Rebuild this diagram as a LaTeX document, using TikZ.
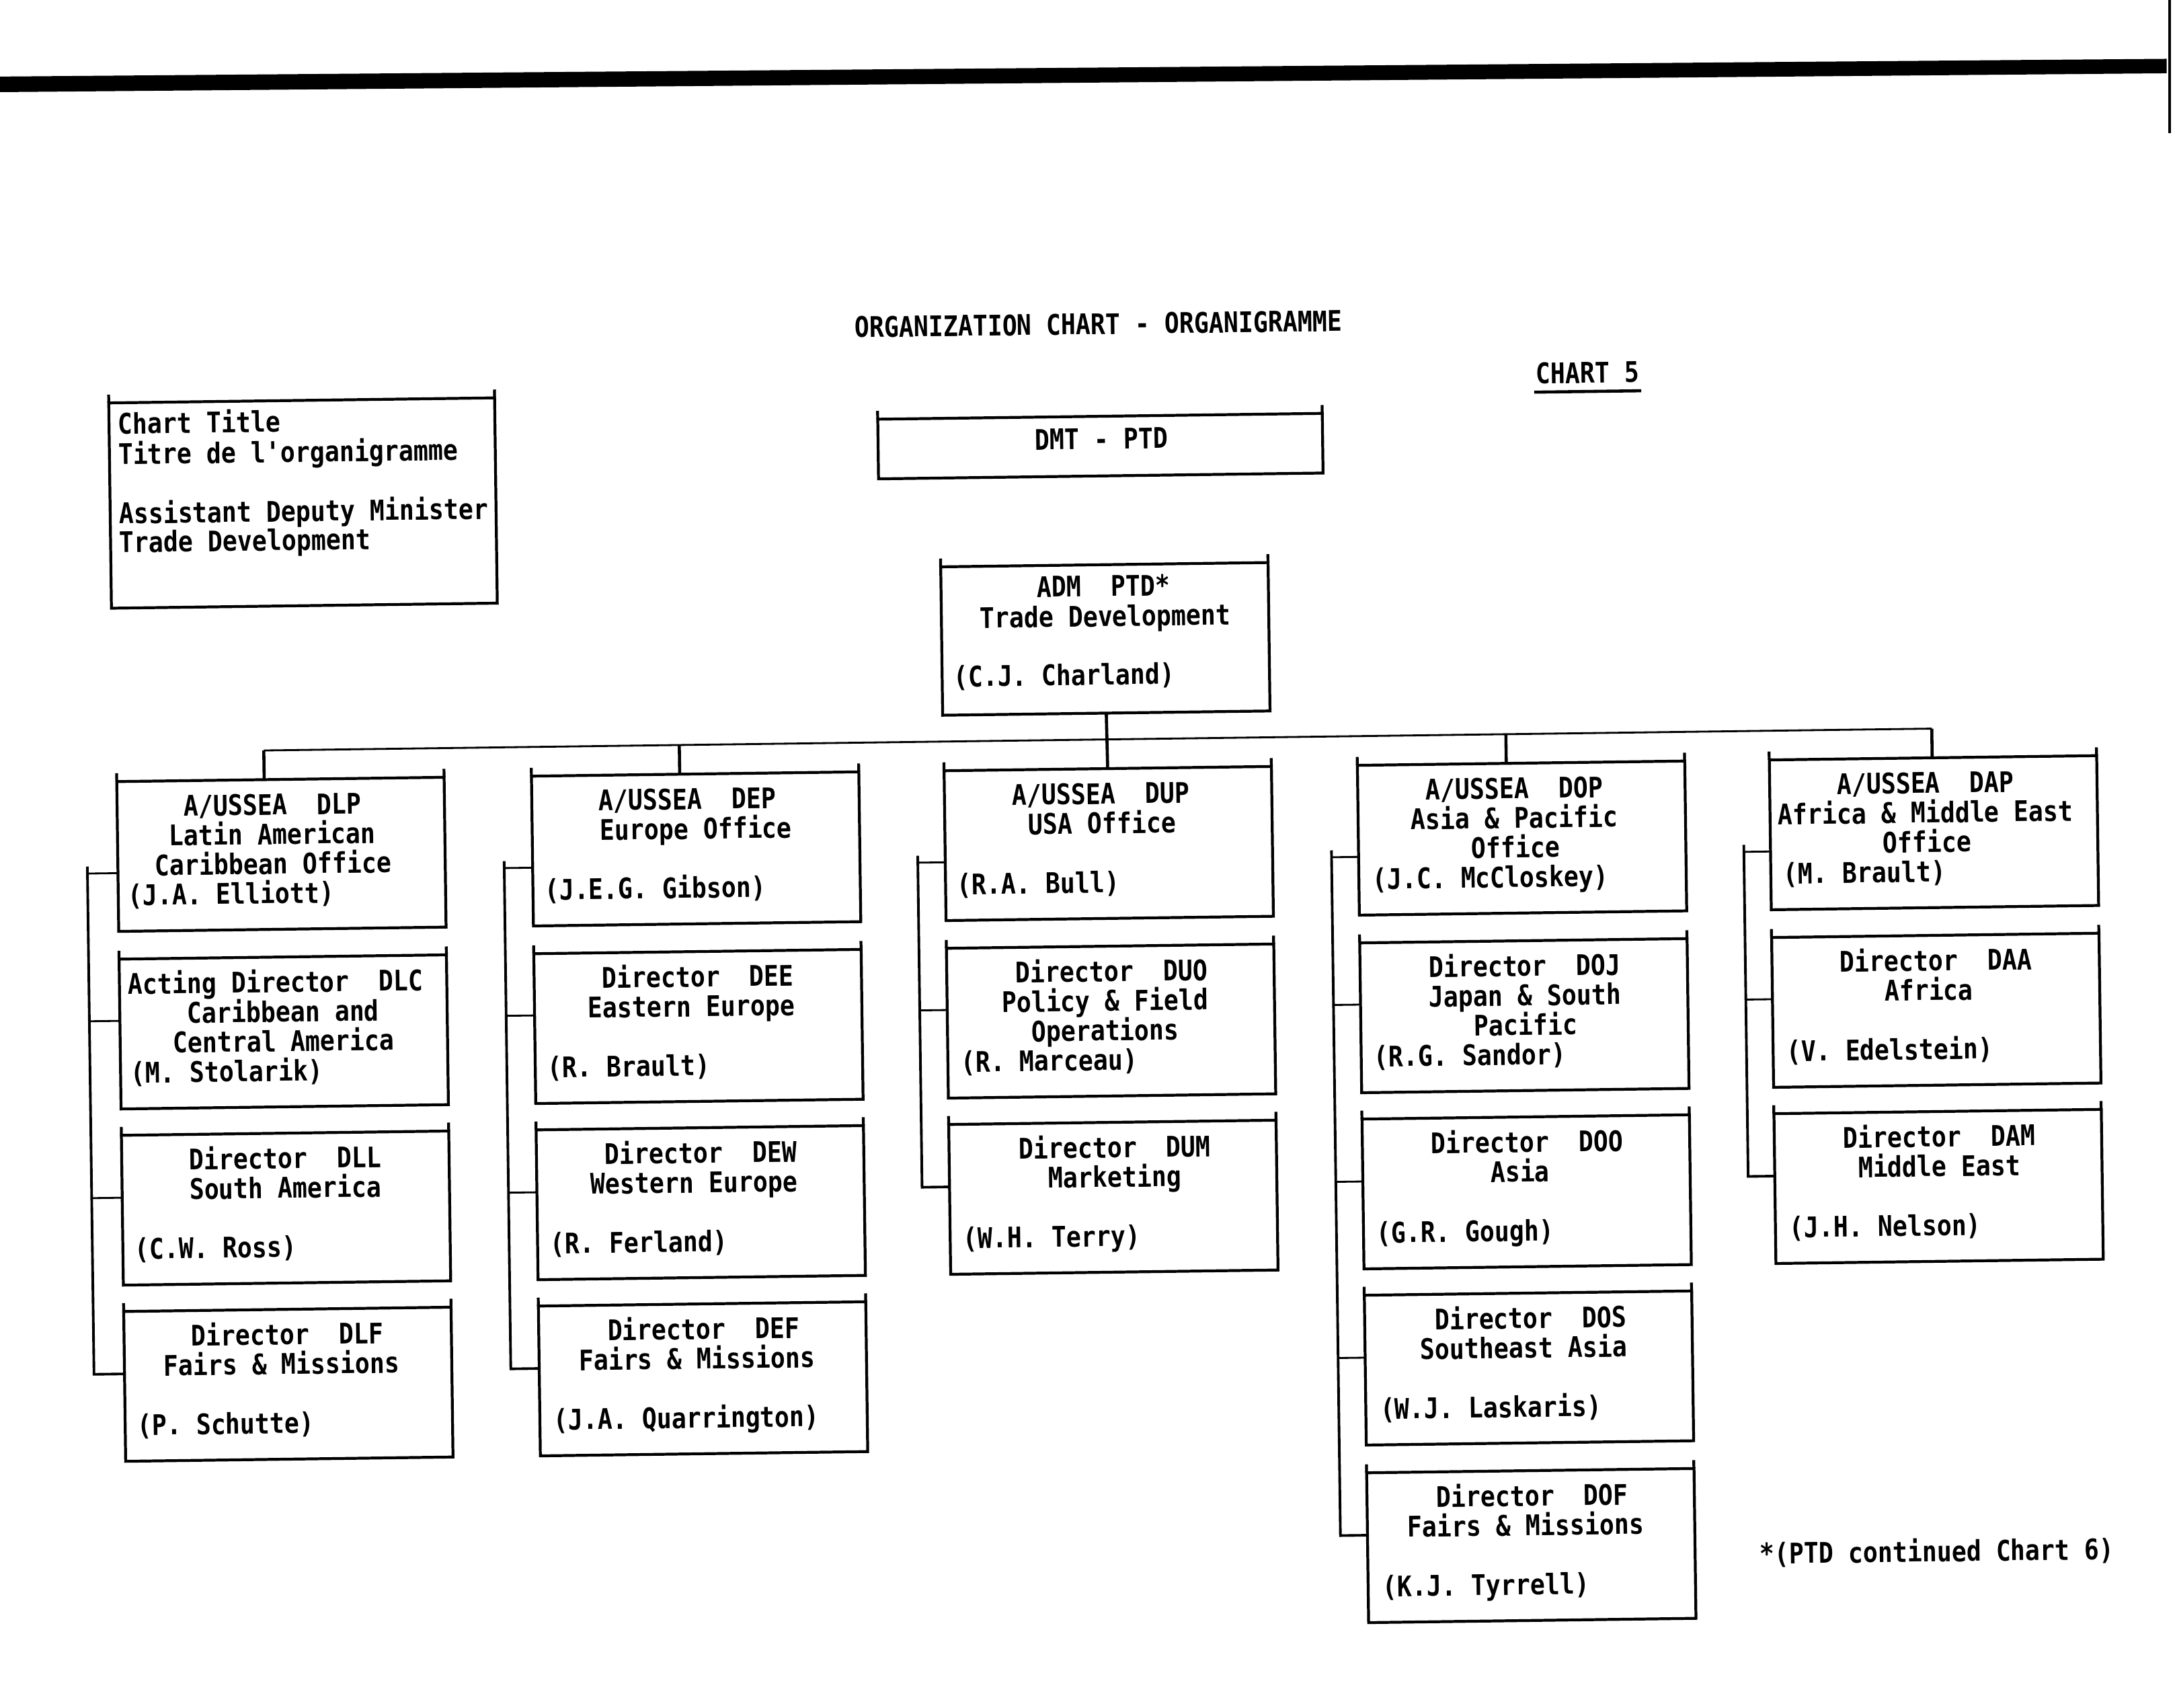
\documentclass[tikz,border=0pt]{standalone}
\usepackage{fontspec}
\newfontfamily\tw[FakeStretch=0.865,Ligatures=TeXOff]{DejaVu Sans Mono}
\newcommand\tline[4]{\node[tx] (#1) at (#2,#3) {#4};}
\newcommand\tname[4]{\node[txl] (#1) at (#2,#3) {#4};}
\begin{document}
\begin{tikzpicture}[x=0.02063cm,y=-0.02063cm,
  box/.style={draw, line width=1.2pt, anchor=north west, inner sep=0pt, outer sep=0pt,
              minimum width=4.869cm, minimum height=2.228cm},
  tx/.style={font=\tw\bfseries\fontsize{12}{14}\selectfont, inner sep=0pt, anchor=base},
  txl/.style={tx, anchor=base west},
  drop/.style={line width=1.3pt},
  bus/.style={line width=0.8pt},
  brk/.style={line width=1.1pt},
  stub/.style={line width=0.8pt},
  tick/.style={line width=1.2pt}]
\fill[white] (0,0) rectangle (1568,1230.7);
\useasboundingbox (0,0) rectangle (1568,1230.7);
% scanner band at the top
\fill (0,55.2) -- (1562,42.4) -- (1562,52.8) -- (0,66.4) -- cycle;
\draw[line width=1pt] (1564,0) -- (1564,96);

\begin{scope}[rotate around={0.75:(800,700)}, transform shape]
% headings
\tline{title}{797.9}{240.9}{ORGANIZATION CHART - ORGANIGRAMME}
\tline{chart5}{1150}{280.6}{CHART 5}
\draw[line width=1.3pt] (1111.5,286.7) -- (1188.7,286.7);
\tline{foot}{1390.9}{1133.4}{*(PTD continued Chart 6)}

% chart title box
\node[box, minimum width=5.739cm, minimum height=3.053cm] (chart) at (83.8,281) {};
\tname{ct1}{89.8}{303.5}{Chart Title}
\tname{ct2}{89.8}{325.5}{Titre de l'organigramme}
\tname{ct3}{89.8}{368.2}{Assistant Deputy Minister}
\tname{ct4}{89.8}{389.0}{Trade Development}

% DMT box
\node[box, minimum width=6.612cm, minimum height=0.887cm] (dmt) at (638,300) {};
\tline{dmt1}{799.1}{323.7}{DMT - PTD}

% ADM box
\node[box, minimum height=2.207cm] (adm) at (682,407) {};
\tline{adm1}{799.3}{429.8}{ADM\ \ PTD*}
\tline{adm2}{800.1}{451.5}{Trade Development}
\tname{admn}{689.7}{493.6}{(C.J. Charland)}

% column 1
\node[box] (dlp) at (86,554) {};
\node[box] (dlc) at (86,682) {};
\node[box] (dll) at (86,809) {};
\node[box] (dlf) at (86,936) {};
\tline{dlp1}{198}{579.5}{A/USSEA\ \ DLP}
\tline{dlp2}{197.6}{600.8}{Latin American}
\tline{dlp3}{198}{622.1}{Caribbean Office}
\tname{dlpn}{92.5}{643.4}{(J.A. Elliott)}
\tline{dlc1}{198.6}{707.5}{Acting Director\ \ DLC}
\tline{dlc2}{203.7}{728.8}{Caribbean and}
\tline{dlc3}{203.8}{750.1}{Central America}
\tname{dlcn}{93}{771.4}{(M. Stolarik)}
\tline{dll1}{203.8}{834.5}{Director\ \ DLL}
\tline{dll2}{203.8}{855.8}{South America}
\tname{dlln}{94}{898.4}{(C.W. Ross)}
\tline{dlf1}{203.8}{961.5}{Director\ \ DLF}
\tline{dlf2}{199.3}{982.8}{Fairs \& Missions}
\tname{dlfn}{94.3}{1025.4}{(P. Schutte)}

% column 2
\node[box] (dep) at (385,554) {};
\node[box] (dee) at (385,682) {};
\node[box] (dew) at (385,809) {};
\node[box] (def) at (385,936) {};
\tline{dep1}{497.2}{579.5}{A/USSEA\ \ DEP}
\tline{dep2}{503}{600.8}{Europe Office}
\tname{depn}{393}{643.4}{(J.E.G. Gibson)}
\tline{dee1}{503}{707.5}{Director\ \ DEE}
\tline{dee2}{498}{728.8}{Eastern Europe}
\tname{deen}{393.5}{771.4}{(R. Brault)}
\tline{dew1}{503.5}{834.5}{Director\ \ DEW}
\tline{dew2}{498.4}{855.8}{Western Europe}
\tname{dewn}{393.8}{898.4}{(R. Ferland)}
\tline{def1}{503.9}{961.5}{Director\ \ DEF}
\tline{def2}{498.8}{982.8}{Fairs \& Missions}
\tname{defn}{394.5}{1025.4}{(J.A. Quarrington)}

% column 3
\node[box] (dup) at (682.5,554) {};
\node[box] (duo) at (682.5,682) {};
\node[box] (dum) at (682.5,809) {};
\tline{dup1}{795.2}{579.5}{A/USSEA\ \ DUP}
\tline{dup2}{796}{600.8}{USA Office}
\tname{dupn}{690.5}{643.4}{(R.A. Bull)}
\tline{duo1}{801.3}{707.5}{Director\ \ DUO}
\tline{duo2}{796.4}{728.8}{Policy \& Field}
\tline{duo3}{796.2}{750.1}{Operations}
\tname{duon}{691.4}{771.4}{(R. Marceau)}
\tline{dum1}{801.9}{834.5}{Director\ \ DUM}
\tline{dum2}{801.9}{855.8}{Marketing}
\tname{dumn}{691.6}{898.4}{(W.H. Terry)}

% column 4
\node[box] (dop) at (980.5,554) {};
\node[box] (doj) at (980.5,682) {};
\node[box] (doo) at (980.5,809) {};
\node[box] (dos) at (980.5,936) {};
\node[box] (dof) at (980.5,1064) {};
\tline{dop1}{1093.3}{579.5}{A/USSEA\ \ DOP}
\tline{dop2}{1093.2}{600.8}{Asia \& Pacific}
\tline{dop3}{1093.8}{622.1}{Office}
\tname{dopn}{989.8}{643.4}{(J.C. McCloskey)}
\tline{doj1}{1099.2}{707.5}{Director\ \ DOJ}
\tline{doj2}{1099.2}{728.8}{Japan \& South}
\tline{doj3}{1099.5}{750.1}{Pacific}
\tname{dojn}{989.4}{771.4}{(R.G. Sandor)}
\tline{doo1}{1099.2}{834.5}{Director\ \ DOO}
\tline{doo2}{1093.9}{855.8}{Asia}
\tname{doon}{989.7}{898.4}{(G.R. Gough)}
\tline{dos1}{1100.2}{961.5}{Director\ \ DOS}
\tline{dos2}{1094.9}{982.8}{Southeast Asia}
\tname{dosn}{990.5}{1025.4}{(W.J. Laskaris)}
\tline{dof1}{1099.6}{1089.5}{Director\ \ DOF}
\tline{dof2}{1094.6}{1110.8}{Fairs \& Missions}
\tname{dofn}{990.7}{1153.4}{(K.J. Tyrrell)}

% column 5
\node[box] (dap) at (1277.5,554) {};
\node[box] (daa) at (1277.5,682) {};
\node[box] (dam) at (1277.5,809) {};
\tline{dap1}{1389.8}{579.5}{A/USSEA\ \ DAP}
\tline{dap2}{1389.6}{600.8}{Africa \& Middle East}
\tline{dap3}{1390.3}{622.1}{Office}
\tname{dapn}{1286.2}{643.4}{(M. Brault)}
\tline{daa1}{1395.7}{707.5}{Director\ \ DAA}
\tline{daa2}{1390.3}{728.8}{Africa}
\tname{daan}{1286.7}{771.4}{(V. Edelstein)}
\tline{dam1}{1396.4}{834.5}{Director\ \ DAM}
\tline{dam2}{1396.3}{855.8}{Middle East}
\tname{damn}{1287.1}{898.4}{(J.H. Nelson)}

% small ticks where box sides overshoot the top edge
\foreach \n in {chart,dmt,adm,dlp,dlc,dll,dlf,dep,dee,dew,def,dup,duo,dum,dop,doj,doo,dos,dof,dap,daa,dam}
  \draw[tick] (\n.north west) -- ++(0,-6) (\n.north east) -- ++(0,-6);

% bus and drops
\coordinate (b1) at (192.3,533);
\coordinate (b2) at (491.9,533);
\coordinate (b4) at (1087.9,533);
\coordinate (b5) at (1395,533);
\draw[bus] (b1) -- (b5);
\draw[drop] (adm.south) -- (dup.north);
\draw[drop] (b1) -- (b1 |- dlp.north);
\draw[drop] (b2) -- (b2 |- dep.north);
\draw[drop] (b4) -- (b4 |- dop.north);
\draw[drop] (b5) -- (b5 |- dap.north);

% brackets
\draw[brk] (64,615) -- (64,981) -- (64,981 -| dlf.west);
\draw[stub] (64,620) -- (64,620 -| dlp.west);
\draw[stub] (64,726.5) -- (64,726.5 -| dlc.west);
\draw[stub] (64,854) -- (64,854 -| dll.west);

\draw[brk] (364.5,615) -- (364.5,981) -- (364.5,981 -| def.west);
\draw[stub] (364.5,620) -- (364.5,620 -| dep.west);
\draw[stub] (364.5,726.5) -- (364.5,726.5 -| dee.west);
\draw[stub] (364.5,854) -- (364.5,854 -| dew.west);

\draw[brk] (662.7,615) -- (662.7,854) -- (662.7,854 -| dum.west);
\draw[stub] (662.7,620) -- (662.7,620 -| dup.west);
\draw[stub] (662.7,726.5) -- (662.7,726.5 -| duo.west);

\draw[brk] (961,615) -- (961,1109) -- (961,1109 -| dof.west);
\draw[stub] (961,620) -- (961,620 -| dop.west);
\draw[stub] (961,726.5) -- (961,726.5 -| doj.west);
\draw[stub] (961,854) -- (961,854 -| doo.west);
\draw[stub] (961,981) -- (961,981 -| dos.west);

\draw[brk] (1258.3,615) -- (1258.3,854) -- (1258.3,854 -| dam.west);
\draw[stub] (1258.3,620) -- (1258.3,620 -| dap.west);
\draw[stub] (1258.3,726.5) -- (1258.3,726.5 -| daa.west);
\end{scope}
\end{tikzpicture}
\end{document}
